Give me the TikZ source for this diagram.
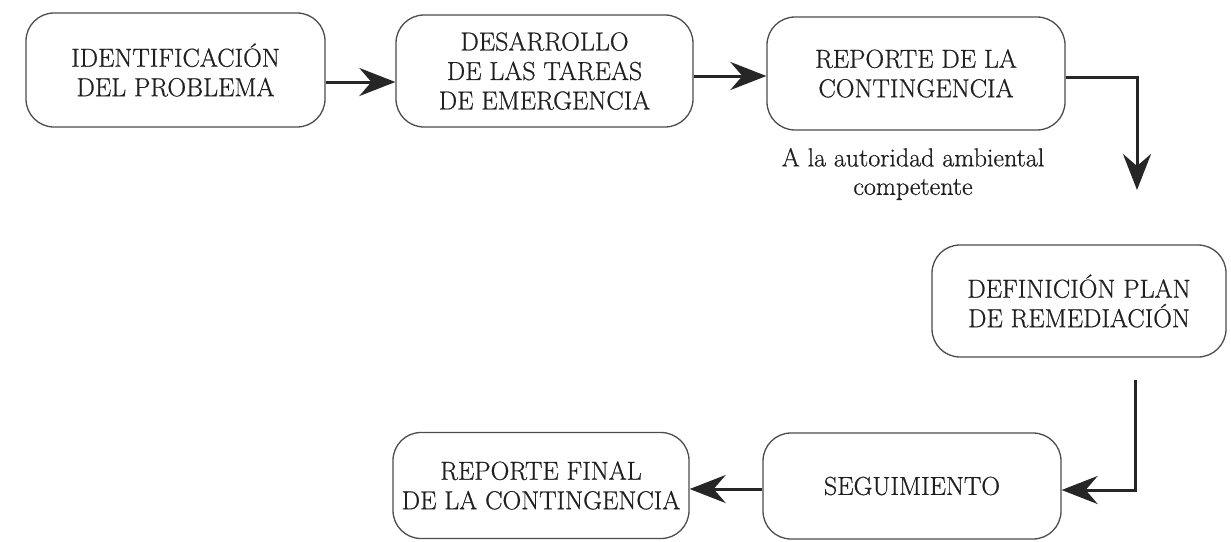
\documentclass[tikz,border=0pt]{standalone}
\usepackage{fontspec}
\newfontface\boxfont{Latin Modern Roman}[FakeBold=0.7]
\usetikzlibrary{arrows.meta}
\begin{document}
\begin{tikzpicture}[x=1pt,y=-1pt,
  box/.style={draw=black!70, line width=1.3pt, rounded corners=28pt, align=center,
    font=\boxfont\fontsize{26}{29.5}\selectfont, text=black!88, inner sep=0pt},
  arr/.style={draw=black!85, line width=3pt, -{Stealth[length=36pt,width=28pt,inset=12pt]}},
  notestyle/.style={align=center, font=\boxfont\fontsize{26}{28.5}\selectfont, text=black!88, inner sep=0pt}]
\useasboundingbox (0,0) rectangle (1231,541);
\node[box, minimum width=299pt, minimum height=114pt] (b1) at (175.5,70) {IDENTIFICACIÓN\\DEL PROBLEMA};
\node[box, minimum width=297pt, minimum height=112pt] (b2) at (544.5,71) {DESARROLLO\\DE LAS TAREAS\\DE EMERGENCIA};
\node[box, minimum width=298pt, minimum height=113pt] (b3) at (916,73.5) {REPORTE DE LA\\CONTINGENCIA};
\node[notestyle] (note) at (913,174) {A la autoridad ambiental\\competente};
\node[box, minimum width=294pt, minimum height=112pt] (b4) at (1079,301) {DEFINICIÓN PLAN\\DE REMEDIACIÓN};
\node[box, minimum width=298pt, minimum height=106pt] (b5) at (912,486) {SEGUIMIENTO};
\node[box, minimum width=296pt, minimum height=106pt] (b6) at (541,485.5) {REPORTE FINAL\\DE LA CONTINGENCIA};
\coordinate (d1) at (1137,190);
\coordinate (s1) at (1135,380);
\draw[arr] ([yshift=-12pt]b1.east) -- ([yshift=-12pt]b1.east -| b2.west);
\draw[arr] ([yshift=-5pt]b2.east) -- ([yshift=-5pt]b2.east -| b3.west);
\draw[arr] ([yshift=-4pt]b3.east) -| (d1);
\draw[arr] (s1) |- ([yshift=-4pt]b5.east);
\draw[arr] ([yshift=-3pt]b5.west) -- ([yshift=-3pt]b5.west -| b6.east);
\end{tikzpicture}
\end{document}
